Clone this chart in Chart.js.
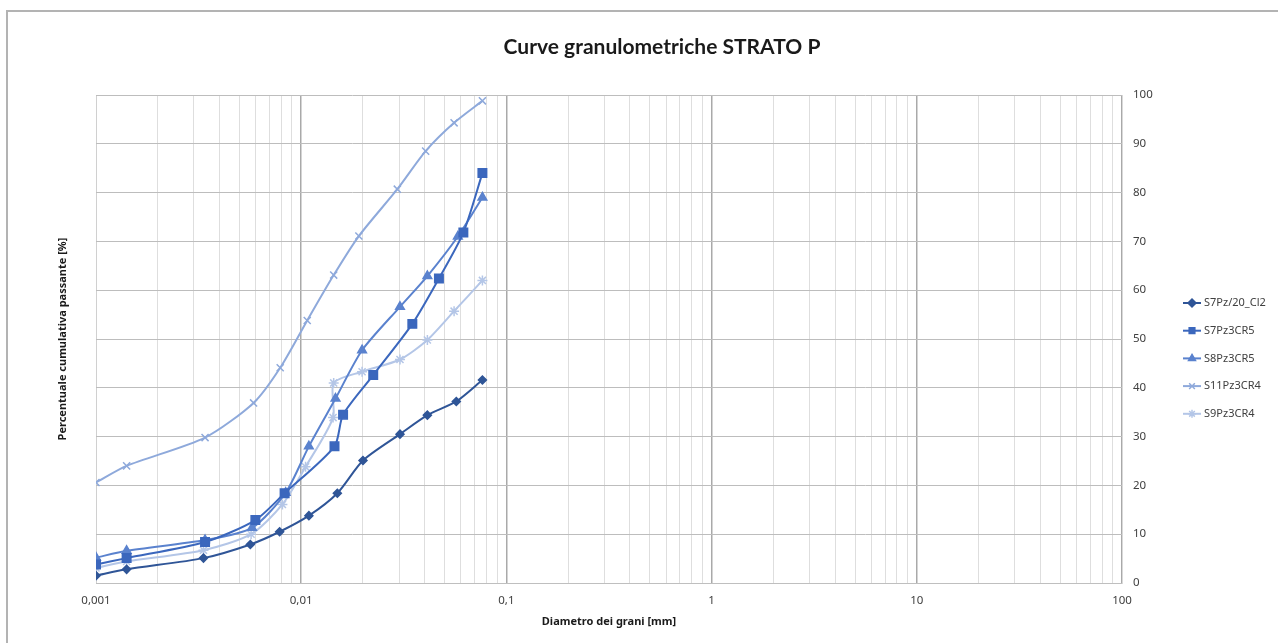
<!DOCTYPE html>
<html>
<head>
<meta charset="utf-8">
<script src="https://cdn.jsdelivr.net/npm/chart.js@4.4.1/dist/chart.umd.min.js"></script>
<style>
  html, body { margin: 0; padding: 0; background: #fff; }
  #chart { display: block; }
</style>
</head>
<body>
<canvas id="chart" width="1278" height="643"></canvas>
<script>
// series names
const seriesNames = ['S7Pz/20_Cl2', 'S7Pz3CR5', 'S8Pz3CR5', 'S11Pz3CR4', 'S9Pz3CR4'];

// diameters [mm] and cumulative passing [%]
const s7Cl2X = [0.001, 0.00141, 0.00334, 0.00565, 0.00785, 0.0109, 0.015, 0.0200, 0.0303, 0.0412, 0.0570, 0.0764];
const s7Cl2Y = [1.5, 2.8, 5.1, 7.9, 10.5, 13.8, 18.4, 25.1, 30.5, 34.4, 37.2, 41.6];

const s7CR5X = [0.001, 0.00141, 0.0034, 0.00598, 0.0083, 0.01453, 0.016, 0.02244, 0.0348, 0.0469, 0.0617, 0.0764];
const s7CR5Y = [3.8, 5.1, 8.4, 12.9, 18.4, 28.0, 34.5, 42.6, 53.1, 62.4, 71.8, 84.0];

const s8CR5X = [0.001, 0.00141, 0.0034, 0.00576, 0.0084, 0.0109, 0.0147, 0.0198, 0.0303, 0.0412, 0.0580, 0.0764];
const s8CR5Y = [5.2, 6.6, 8.8, 11.3, 18.5, 28.0, 37.8, 47.7, 56.6, 62.9, 71.0, 79.0];

const s11CR4X = [0.001, 0.00141, 0.0034, 0.00586, 0.0079, 0.0107, 0.0144, 0.0191, 0.0294, 0.0404, 0.0556, 0.0764];
const s11CR4Y = [20.6, 24.0, 29.8, 36.9, 44.1, 53.8, 63.1, 71.1, 80.7, 88.5, 94.3, 98.8];

const s9CR4X = [0.001, 0.00141, 0.00334, 0.0057, 0.0081, 0.0105, 0.0143, 0.0144, 0.0198, 0.0303, 0.0412, 0.0556, 0.0764];
const s9CR4Y = [3.1, 4.4, 6.7, 10.0, 16.1, 23.8, 33.9, 41.0, 43.3, 45.8, 49.8, 55.7, 62.0];

// axis tick labels
const xDecades = [0.001, 0.01, 0.1, 1, 10, 100];
const yTicks = [0, 10, 20, 30, 40, 50, 60, 70, 80, 90, 100];

const chartTitle = 'Curve granulometriche STRATO P';

const seriesStyles = [
  { color: '#2F5597', pointStyle: 'rectRot', radius: 4 },
  { color: '#3B67BD', pointStyle: 'rect', radius: 6 },
  { color: '#5A82CE', pointStyle: 'triangle', radius: 5 },
  { color: '#8EA9DB', pointStyle: 'crossRot', radius: 5 },
  { color: '#B4C6E7', pointStyle: 'star', radius: 5 }
];

const seriesData = [
  [s7Cl2X, s7Cl2Y],
  [s7CR5X, s7CR5Y],
  [s8CR5X, s8CR5Y],
  [s11CR4X, s11CR4Y],
  [s9CR4X, s9CR4Y]
];

const datasets = seriesData.map(([xs, ys], i) => ({
  label: seriesNames[i],
  data: xs.map((x, k) => ({ x, y: ys[k] })),
  borderColor: seriesStyles[i].color,
  backgroundColor: seriesStyles[i].color,
  borderWidth: 2,
  pointStyle: seriesStyles[i].pointStyle,
  pointRadius: seriesStyles[i].radius,
  pointBorderWidth: 1.5,
  tension: 0.25,
  xAxisID: 'x',
  yAxisID: 'y'
}));

function fmtComma(v) {
  return String(v).replace('.', ',');
}

// frame around the whole chart + title (excel centres it on the chart area box)
const framePlugin = {
  id: 'frame',
  beforeDraw(chart) {
    const ctx = chart.ctx;
    ctx.save();
    ctx.strokeStyle = '#b3b3b3';
    ctx.lineWidth = 2;
    ctx.strokeRect(7, 11, chart.width + 20, chart.height + 20);
    ctx.fillStyle = '#1a1a1a';
    ctx.font = 'bold 21px Lato, sans-serif';
    ctx.textAlign = 'center';
    ctx.textBaseline = 'middle';
    ctx.fillText(chartTitle, 662, 47);
    ctx.restore();
  }
};

// excel-like legend: short line with marker in the middle
const lineLegend = {
  id: 'lineLegend',
  afterDraw(chart) {
    const ctx = chart.ctx;
    const x0 = 1183;
    const y0 = 303;
    const step = 27.7;
    ctx.save();
    chart.data.datasets.forEach((ds, i) => {
      const y = y0 + i * step;
      ctx.strokeStyle = ds.borderColor;
      ctx.fillStyle = ds.backgroundColor;
      ctx.lineWidth = 2;
      ctx.beginPath();
      ctx.moveTo(x0, y);
      ctx.lineTo(x0 + 18, y);
      ctx.stroke();
      ctx.lineWidth = 1.5;
      Chart.helpers.drawPoint(ctx, {
        pointStyle: ds.pointStyle,
        radius: Math.min(ds.pointRadius, 4),
        rotation: 0,
        borderWidth: 1.5
      }, x0 + 9, y);
      ctx.fillStyle = '#404040';
      ctx.font = '11px "Noto Sans", sans-serif';
      ctx.textBaseline = 'middle';
      ctx.textAlign = 'left';
      ctx.fillText(ds.label, x0 + 21, y);
    });
    ctx.restore();
  }
};

new Chart(document.getElementById('chart'), {
  type: 'line',
  data: { datasets },
  plugins: [framePlugin, lineLegend],
  options: {
    responsive: false,
    animation: false,
    layout: { padding: { left: 0, right: 100, top: 95, bottom: 0 } },
    plugins: {
      legend: { display: false },
      tooltip: { enabled: false },
      title: { display: false }
    },
    scales: {
      x: {
        type: 'logarithmic',
        position: 'bottom',
        min: 0.001,
        max: 100,
        afterBuildTicks(scale) {
          const ticks = [];
          xDecades.forEach((d, i) => {
            if (i === xDecades.length - 1) {
              ticks.push({ value: d, major: true });
              return;
            }
            for (let m = 1; m <= 9; m++) {
              ticks.push({ value: +(m * d).toPrecision(6), major: m === 1 });
            }
          });
          scale.ticks = ticks;
        },
        afterFit(scale) { scale.height = 60; },
        ticks: {
          autoSkip: false,
          maxRotation: 0,
          padding: 11,
          color: '#404040',
          font: { family: 'Noto Sans', size: 11.5 },
          callback(value) {
            return xDecades.includes(value) ? fmtComma(value) : '';
          }
        },
        grid: {
          drawTicks: false,
          color(ctx) {
            if (!ctx.tick) return '#dcdcdc';
            if (ctx.index === 0) return '#d0d0d0';
            return ctx.tick.major ? '#a9a9a9' : '#dedede';
          },
          lineWidth(ctx) {
            return ctx.tick && ctx.tick.major && ctx.index !== 0 ? 1.5 : 1;
          }
        },
        border: { display: true, color: '#bfbfbf', width: 1 },
        title: {
          display: true,
          text: 'Diametro dei grani [mm]',
          color: '#1a1a1a',
          font: { family: 'Noto Sans', size: 11, weight: 'bold' },
          padding: { top: 0, bottom: 15 }
        }
      },
      y: {
        type: 'linear',
        position: 'right',
        min: 0,
        max: 100,
        afterBuildTicks(scale) {
          scale.ticks = yTicks.map(v => ({ value: v }));
        },
        afterFit(scale) { scale.width = 56; },
        ticks: {
          padding: 11,
          color: '#404040',
          font: { family: 'Noto Sans', size: 11.5 }
        },
        grid: { drawTicks: false, color: '#bdbdbd' },
        border: { display: true, color: '#d9d9d9' }
      },
      yTitle: {
        type: 'linear',
        position: 'left',
        min: 0,
        max: 100,
        afterFit(scale) { scale.width = 96; },
        ticks: { display: false },
        grid: { display: false },
        border: { display: false },
        title: {
          display: true,
          text: 'Percentuale cumulativa passante [%]',
          color: '#1a1a1a',
          font: { family: 'Noto Sans', size: 11, weight: 'bold' },
          padding: { top: 56, bottom: 0 }
        }
      }
    }
  }
});
</script>
</body>
</html>
